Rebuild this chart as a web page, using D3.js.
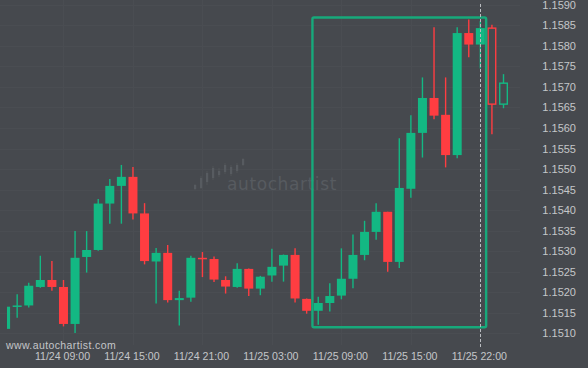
<!DOCTYPE html>
<html>
<head>
<meta charset="utf-8">
<script src="https://cdn.jsdelivr.net/npm/d3@7"></script>
<style>
  html, body { margin: 0; padding: 0; background: #46494e; }
  svg { display: block; }
</style>
</head>
<body>
<div id="chart"></div>
<script>
// hourly EUR/USD candles
var times = ["11/24 04:00","11/24 05:00","11/24 06:00","11/24 07:00","11/24 08:00","11/24 09:00",
  "11/24 10:00","11/24 11:00","11/24 12:00","11/24 13:00","11/24 14:00","11/24 15:00",
  "11/24 16:00","11/24 17:00","11/24 18:00","11/24 19:00","11/24 20:00","11/24 21:00",
  "11/24 22:00","11/24 23:00","11/25 00:00","11/25 01:00","11/25 02:00","11/25 03:00",
  "11/25 04:00","11/25 05:00","11/25 06:00","11/25 07:00","11/25 08:00","11/25 09:00",
  "11/25 10:00","11/25 11:00","11/25 12:00","11/25 13:00","11/25 14:00","11/25 15:00",
  "11/25 16:00","11/25 17:00","11/25 18:00","11/25 19:00","11/25 20:00","11/25 22:00",
  "11/25 23:00","11/26 00:00"];
var open  = [1.15111,1.15166,1.15168,1.15213,1.15230,1.15213,1.15123,1.15286,1.15303,1.15416,1.15459,1.15481,
  1.15392,1.15275,1.15296,1.15181,1.15187,1.15284,1.15281,1.15230,1.15213,1.15257,1.15209,1.15241,
  1.15265,1.15291,1.15184,1.15155,1.15174,1.15192,1.15233,1.15291,1.15347,1.15396,1.15274,1.15452,
  1.15588,1.15673,1.15632,1.15534,1.15831,1.15803,1.15843,1.15658];
var high  = [1.15168,1.15195,1.15223,1.15289,1.15276,1.15230,1.15349,1.15349,1.15427,1.15476,1.15510,1.15505,
  1.15417,1.15308,1.15315,1.15204,1.15289,1.15298,1.15287,1.15239,1.15271,1.15258,1.15240,1.15306,
  1.15292,1.15307,1.15185,1.15189,1.15222,1.15307,1.15341,1.15374,1.15417,1.15396,1.15575,1.15631,
  1.15723,1.15845,1.15723,1.15845,1.15864,1.15860,1.15851,1.15731];
var low   = [1.15108,1.15138,1.15163,1.15211,1.15204,1.15117,1.15101,1.15248,1.15301,1.15367,1.15367,1.15377,
  1.15268,1.15173,1.15175,1.15119,1.15177,1.15237,1.15225,1.15197,1.15211,1.15191,1.15193,1.15226,
  1.15226,1.15175,1.15148,1.15121,1.15153,1.15183,1.15210,1.15278,1.15328,1.15250,1.15259,1.15430,
  1.15528,1.15621,1.15504,1.15526,1.15772,1.15745,1.15585,1.15648];
var close = [1.15165,1.15168,1.15216,1.15230,1.15213,1.15123,1.15284,1.15303,1.15416,1.15459,1.15481,1.15392,
  1.15276,1.15296,1.15181,1.15186,1.15284,1.15282,1.15231,1.15214,1.15257,1.15209,1.15238,1.15262,
  1.15291,1.15185,1.15155,1.15174,1.15191,1.15233,1.15291,1.15347,1.15396,1.15274,1.15454,1.15588,
  1.15673,1.15630,1.15534,1.15831,1.15803,1.15843,1.15658,1.15709];
var hollow = ["11/25 23:00","11/26 00:00"];

var xTicks = ["11/24 09:00","11/24 15:00","11/24 21:00","11/25 03:00","11/25 09:00","11/25 15:00","11/25 22:00"];
var yTicks = [1.1510,1.1515,1.1520,1.1525,1.1530,1.1535,1.1540,1.1545,1.1550,1.1555,1.1560,1.1565,1.1570,1.1575,1.1580,1.1585,1.1590];

// pattern box: first / last candle and price range
var patternTimes = ["11/25 07:00","11/25 22:00"];
var patternPrices = [1.15115, 1.15869];
var nowTime = "11/25 22:00";

var width = 588, height = 368;
var green = "#13b883", red = "#ff3d41";

var data = times.map(function(t, i) {
  return {t: t, o: open[i], h: high[i], l: low[i], c: close[i]};
});

var x = d3.scaleBand().domain(times).range([-0.2, 509.3]);
var y = d3.scaleLinear().domain([1.1510, 1.1590]).range([333.4, 4.7]);

var svg = d3.select("#chart").append("svg")
    .attr("width", width)
    .attr("height", height);

svg.append("rect")
    .attr("width", width).attr("height", height)
    .attr("fill", "#46494e");

svg.append("clipPath").attr("id", "plot")
  .append("rect")
    .attr("x", 7).attr("y", 0)
    .attr("width", 540).attr("height", 345);

// faint grid
var grid = svg.append("g").attr("stroke", "#4a4d52").attr("stroke-width", 1);
grid.selectAll(".hg").data(yTicks).enter().append("line")
    .attr("x1", 0).attr("x2", 520)
    .attr("y1", function(d) { return Math.round(y(d)) + 0.5; })
    .attr("y2", function(d) { return Math.round(y(d)) + 0.5; });
grid.selectAll(".vg").data(xTicks).enter().append("line")
    .attr("y1", 0).attr("y2", 345)
    .attr("x1", function(d) { return Math.round(x(d) + x.bandwidth() / 2) + 0.5; })
    .attr("x2", function(d) { return Math.round(x(d) + x.bandwidth() / 2) + 0.5; });

// watermark logo (little candles) + name
var wm = svg.append("g").attr("fill", "#575b60").attr("stroke", "#575b60");
var wmBars = [[194, 185, 189, 184, 190], [200, 178, 188, 176, 189], [206, 173, 182, 171, 185],
  [212, 168, 178, 166, 180], [218, 171, 175, 168, 177], [224, 165, 172, 163, 174],
  [230, 167, 174, 165, 176], [236, 165, 171, 163, 173], [242, 159, 165, 158, 166]];
var logo = wm.selectAll(".wmb").data(wmBars).enter().append("g");
logo.append("line")
    .attr("x1", function(d) { return d[0] + 1; }).attr("x2", function(d) { return d[0] + 1; })
    .attr("y1", function(d) { return d[3]; }).attr("y2", function(d) { return d[4]; })
    .attr("stroke-width", 0.6);
logo.append("rect")
    .attr("x", function(d) { return d[0]; })
    .attr("y", function(d) { return d[1]; })
    .attr("width", 2.2)
    .attr("height", function(d) { return d[2] - d[1]; })
    .attr("stroke", "none");
wm.append("text")
    .attr("x", 227).attr("y", 190)
    .attr("stroke", "none")
    .style("font-family", "'DejaVu Sans', sans-serif")
    .style("font-size", "17px")
    .style("letter-spacing", "0.6px")
    .text("autochartist");

var plot = svg.append("g").attr("clip-path", "url(#plot)");
var bw = 9;
function cx(d) { return x(d.t) + x.bandwidth() / 2; }
function col(d) { return d.c >= d.o ? green : red; }
function isHollow(d) { return hollow.indexOf(d.t) >= 0; }

var candles = plot.selectAll(".candle").data(data).enter().append("g").attr("class", "candle");

candles.append("line")
    .attr("x1", cx).attr("x2", cx)
    .attr("y1", function(d) { return y(d.h); })
    .attr("y2", function(d) { return y(d.l); })
    .attr("stroke", col)
    .attr("stroke-width", 1.4);

candles.filter(function(d) { return !isHollow(d); }).append("rect")
    .attr("x", function(d) { return cx(d) - bw / 2; })
    .attr("width", bw)
    .attr("y", function(d) { return y(Math.max(d.o, d.c)); })
    .attr("height", function(d) { return Math.max(1.5, Math.abs(y(d.o) - y(d.c))); })
    .attr("fill", col);

candles.filter(isHollow).append("rect")
    .attr("x", function(d) { return cx(d) - bw / 2 + 0.7; })
    .attr("width", bw - 1.4)
    .attr("y", function(d) { return y(Math.max(d.o, d.c)); })
    .attr("height", function(d) { return Math.abs(y(d.o) - y(d.c)); })
    .attr("fill", "#46494e")
    .attr("stroke", col)
    .attr("stroke-width", 1.4);

// pattern box
var px0 = x(patternTimes[0]), px1 = x(patternTimes[1]) + x.bandwidth();
svg.append("rect")
    .attr("x", px0).attr("y", y(patternPrices[1]))
    .attr("width", px1 - px0)
    .attr("height", y(patternPrices[0]) - y(patternPrices[1]))
    .attr("rx", 1.5)
    .attr("fill", "none")
    .attr("stroke", "#17a97b")
    .attr("stroke-width", 2.4);

// current time marker
var nx = Math.round(x(nowTime) + x.bandwidth() / 2) + 0.5;
svg.append("line")
    .attr("x1", nx).attr("x2", nx)
    .attr("y1", 4).attr("y2", 347)
    .attr("stroke", "#b9bcc0")
    .attr("stroke-width", 1)
    .attr("stroke-dasharray", "3,2");

// axes
var yAxis = svg.append("g")
    .attr("transform", "translate(576,0)")
    .call(d3.axisLeft(y).tickValues(yTicks).tickSize(0).tickPadding(0).tickFormat(d3.format(".4f")));
yAxis.select(".domain").remove();
yAxis.selectAll("text")
    .style("font-family", "'Liberation Sans', Arial, sans-serif")
    .style("font-size", "11px")
    .attr("fill", "#c4c6c9");

var xAxis = svg.append("g")
    .attr("transform", "translate(-1,349)")
    .call(d3.axisBottom(x).tickValues(xTicks).tickSize(0).tickPadding(3));
xAxis.select(".domain").remove();
xAxis.selectAll("text")
    .style("font-family", "'Liberation Sans', Arial, sans-serif")
    .style("font-size", "10.6px")
    .attr("fill", "#c4c6c9");

svg.append("text")
    .attr("x", 6).attr("y", 349)
    .text("www.autochartist.com")
    .style("font-family", "'Liberation Sans', Arial, sans-serif")
    .style("font-size", "10.5px")
    .style("letter-spacing", "0.4px")
    .attr("fill", "#c4c6c9");
</script>
</body>
</html>
